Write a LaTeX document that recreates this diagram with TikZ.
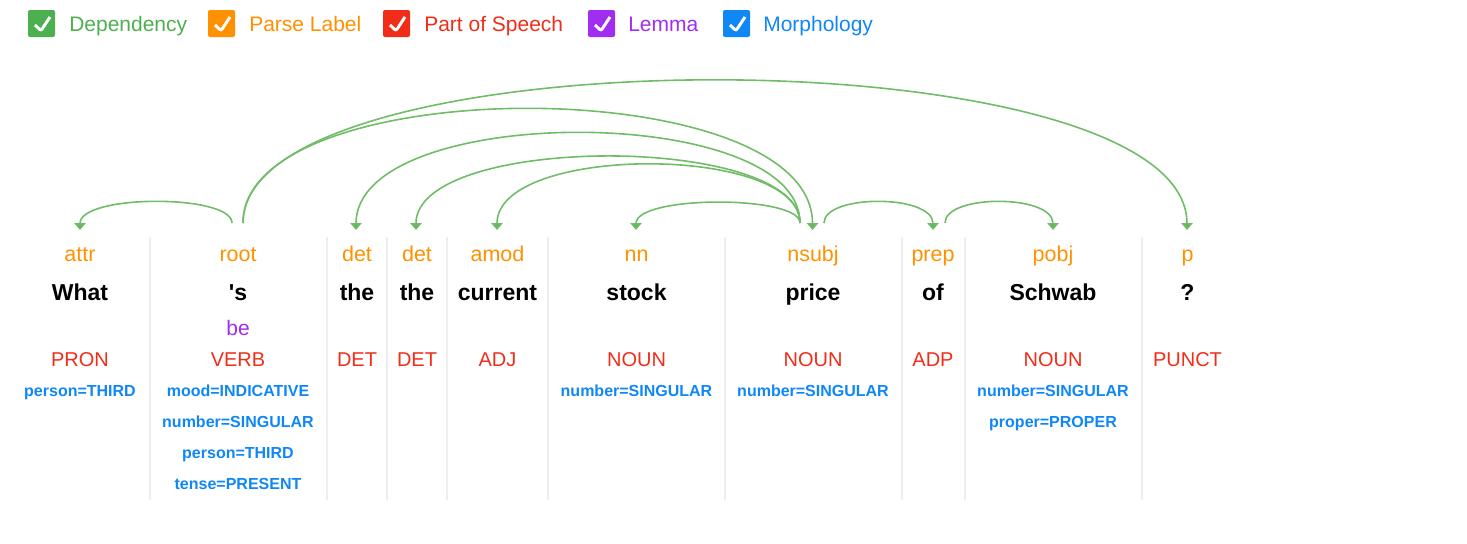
\documentclass[tikz,border=0pt]{standalone}
\usepackage{fontspec}
\setmainfont{Liberation Sans}[Ligatures=TeXOff]
\usetikzlibrary{arrows.meta}
\definecolor{depgreen}{RGB}{76,175,80}
\definecolor{arcgreen}{RGB}{112,188,104}
\definecolor{parseorange}{RGB}{255,145,0}
\definecolor{posred}{RGB}{240,45,25}
\definecolor{lemmapurple}{RGB}{160,45,240}
\definecolor{morphblue}{RGB}{15,135,245}
\definecolor{sepgray}{RGB}{238,238,238}
\newcommand\deparc[3]{\draw[dep] (#1) .. controls +(0,-#3) and +(0,-#3-7) .. (#2);}
\begin{document}
\begin{tikzpicture}[x=0.75pt,y=-0.75pt,
  chk/.style={fill=#1, rounded corners=1.5pt, minimum size=20.25pt, inner sep=0pt,
    path picture={\draw[white, line width=2.2pt]
      ([shift={(-6.5,1.5)}]path picture bounding box.center) -- ++(6,5.7) -- ++(9,-13.7);}},
  legtext/.style={text=#1, anchor=base west, inner sep=0pt, font=\fontsize{15.75pt}{18pt}\selectfont},
  parselab/.style={text=parseorange, anchor=base, inner sep=0pt, font=\fontsize{16.1pt}{18pt}\selectfont},
  wordlab/.style={text=black, anchor=base, inner sep=0pt, font=\fontsize{17.25pt}{20pt}\selectfont\bfseries},
  lemmalab/.style={text=lemmapurple, anchor=base, inner sep=0pt, font=\fontsize{15.75pt}{18pt}\selectfont},
  postag/.style={text=posred, anchor=base, inner sep=0pt, font=\fontsize{15pt}{18pt}\selectfont},
  morphlab/.style={text=morphblue, anchor=base, inner sep=0pt, font=\fontsize{12pt}{14pt}\selectfont\bfseries},
  sepline/.style={draw=sepgray, line width=0.8pt},
  dep/.style={draw=arcgreen, line width=1.2pt, -{Triangle[width=8.5pt,length=5.2pt,fill=depgreen!90!white]}}
]
\useasboundingbox (0,0) rectangle (1467,543);

% legend
\node[chk=depgreen] (chkDep) at (41.5,23.5) {};
\node[legtext=depgreen] (legDep) at (69,31) {Dependency};
\node[chk=parseorange] (chkParse) at (221.5,23.5) {};
\node[legtext=parseorange] (legParse) at (249,31) {Parse Label};
\node[chk=posred] (chkPos) at (396.5,23.5) {};
\node[legtext=posred] (legPos) at (424,31) {Part of Speech};
\node[chk=lemmapurple] (chkLem) at (601.5,23.5) {};
\node[legtext=lemmapurple] (legLem) at (628,31) {Lemma};
\node[chk=morphblue] (chkMorph) at (736.5,23.5) {};
\node[legtext=morphblue] (legMorph) at (763,31) {Morphology};

% column separators
\foreach \sx in {150,327,387,447,548,725,902,965,1142}
  \draw[sepline] (\sx,237) -- (\sx,500);

% parse labels
\node[parselab] (p1) at (80,261) {attr};
\node[parselab] (p2) at (238,261) {root};
\node[parselab] (p3) at (357,261) {det};
\node[parselab] (p4) at (417,261) {det};
\node[parselab] (p5) at (497.5,261) {amod};
\node[parselab] (p6) at (636.5,261) {nn};
\node[parselab] (p7) at (813,261) {nsubj};
\node[parselab] (p8) at (933,261) {prep};
\node[parselab] (p9) at (1053,261) {pobj};
\node[parselab] (p10) at (1187.5,261) {p};

% words
\node[wordlab] (w1) at (80,300) {What};
\node[wordlab] (w2) at (238,300) {'s};
\node[wordlab] (w3) at (357,300) {the};
\node[wordlab] (w4) at (417,300) {the};
\node[wordlab] (w5) at (497.5,300) {current};
\node[wordlab] (w6) at (636.5,300) {stock};
\node[wordlab] (w7) at (813,300) {price};
\node[wordlab] (w8) at (933,300) {of};
\node[wordlab] (w9) at (1053,300) {Schwab};
\node[wordlab] (w10) at (1187.5,300) {?};

% lemma
\node[lemmalab] (lem2) at (238,335) {be};

% part of speech
\node[postag] (t1) at (80,366) {PRON};
\node[postag] (t2) at (238,366) {VERB};
\node[postag] (t3) at (357,366) {DET};
\node[postag] (t4) at (417,366) {DET};
\node[postag] (t5) at (497.5,366) {ADJ};
\node[postag] (t6) at (636.5,366) {NOUN};
\node[postag] (t7) at (813,366) {NOUN};
\node[postag] (t8) at (933,366) {ADP};
\node[postag] (t9) at (1053,366) {NOUN};
\node[postag] (t10) at (1187.5,366) {PUNCT};

% morphology
\node[morphlab] (m1a) at (80,396) {person=THIRD};
\node[morphlab] (m2a) at (238,396) {mood=INDICATIVE};
\node[morphlab] (m2b) at (238,427) {number=SINGULAR};
\node[morphlab] (m2c) at (238,458) {person=THIRD};
\node[morphlab] (m2d) at (238,489) {tense=PRESENT};
\node[morphlab] (m6a) at (636.5,396) {number=SINGULAR};
\node[morphlab] (m7a) at (813,396) {number=SINGULAR};
\node[morphlab] (m9a) at (1053,396) {number=SINGULAR};
\node[morphlab] (m9b) at (1053,427) {proper=PROPER};

% arc anchors
\coordinate (rootOutL) at (232,223);
\coordinate (rootOutR) at (243,223);
\coordinate (priceOutL) at (800,223);
\coordinate (priceOutR) at (824,223);
\coordinate (ofOutR) at (945,223);
\coordinate (whatIn) at (80,230);
\coordinate (theAIn) at (356,230);
\coordinate (theBIn) at (416,230);
\coordinate (currentIn) at (497,230);
\coordinate (stockIn) at (636,230);
\coordinate (priceIn) at (812.5,230);
\coordinate (ofIn) at (933,230);
\coordinate (schwabIn) at (1053,230);
\coordinate (qIn) at (1187,230);

% dependency arcs
\deparc{rootOutL}{whatIn}{29}
\deparc{rootOutR}{qIn}{191}
\deparc{rootOutR}{priceIn}{153}
\deparc{priceOutL}{theAIn}{121}
\deparc{priceOutL}{theBIn}{89.5}
\deparc{priceOutL}{currentIn}{79}
\deparc{priceOutL}{stockIn}{28}
\deparc{priceOutR}{ofIn}{29}
\deparc{ofOutR}{schwabIn}{29}
\end{tikzpicture}
\end{document}
